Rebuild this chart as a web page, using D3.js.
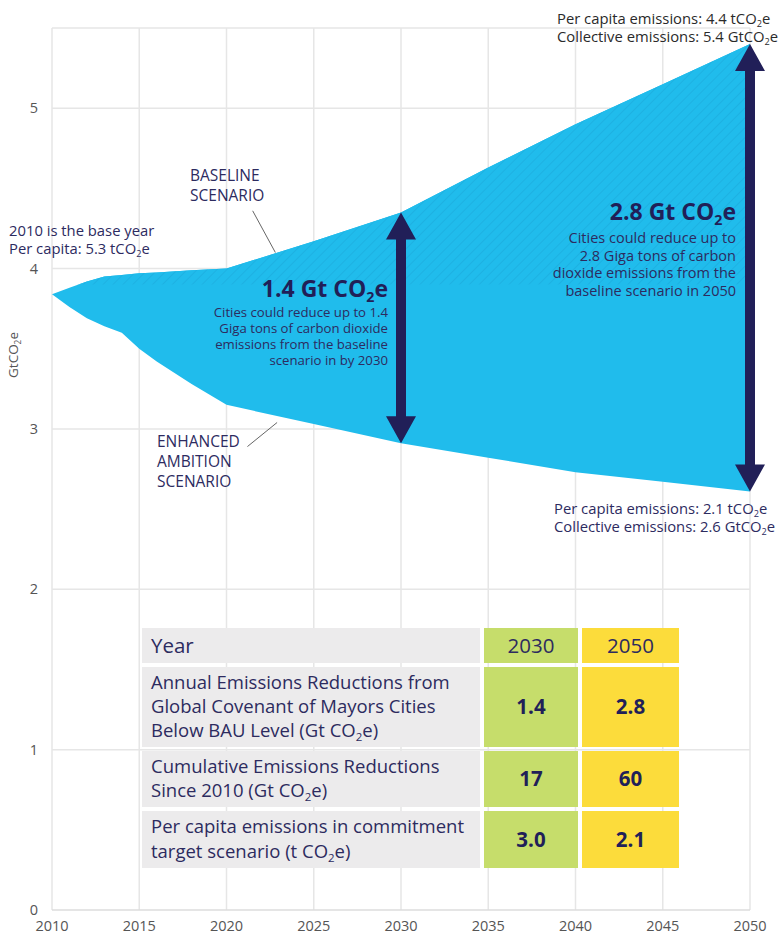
<!DOCTYPE html>
<head>
    <script src="https://d3js.org/d3.v7.min.js"></script>
    <style>
        body { margin: 0; background: #fff; }
        text { font-family: "Open Sans", sans-serif; }
    </style>
</head>
<body>
    <script id="chart">
        // data
        const years = [2010, 2011, 2012, 2013, 2014, 2015, 2016, 2018, 2020, 2025, 2030, 2035, 2040, 2045, 2050];
        const baseline = [3.84, 3.88, 3.92, 3.95, 3.96, 3.97, 3.975, 3.99, 4.00, 4.17, 4.35, 4.63, 4.90, 5.15, 5.40];
        const enhanced = [3.84, 3.76, 3.69, 3.64, 3.60, 3.50, 3.42, 3.28, 3.15, 3.03, 2.91, 2.82, 2.73, 2.67, 2.61];
        const xTicks = [2010, 2015, 2020, 2025, 2030, 2035, 2040, 2045, 2050];
        const yTicks = [0, 1, 2, 3, 4, 5];
        const arrowYears = [2030, 2050];
        const hatchFloor = 3.9;

        // table
        const tableHead = ["Year", "2030", "2050"];
        const tableLabels = [
            ["Annual Emissions Reductions from", "Global Covenant of Mayors Cities", "Below BAU Level (Gt CO_2e)"],
            ["Cumulative Emissions Reductions", "Since 2010 (Gt CO_2e)"],
            ["Per capita emissions in commitment", "target scenario (t CO_2e)"]
        ];
        const table2030 = ["1.4", "17", "3.0"];
        const table2050 = ["2.8", "60", "2.1"];

        const data = years.map((d, i) => ({ year: d, base: baseline[i], enh: enhanced[i] }));

        const svg = d3.select("body")
            .append("svg")
            .attr("width", 778)
            .attr("height", 934);
        const margin = { top: 28, right: 28, bottom: 24, left: 52 };
        const width = 778 - margin.left - margin.right;
        const height = 934 - margin.top - margin.bottom;
        const chart = svg.append("g").attr("transform", `translate(${margin.left},${margin.top})`);

        const x = d3.scaleLinear().domain([2010, 2050]).range([0, width]);
        const y = d3.scaleLinear().domain([0, 5.5]).range([height, 0]);

        const navy = "#211f58";
        const ink = "#2d2b5f";

        // little helper for CO_2 style subscripts
        function rich(sel, str, size) {
            const parts = str.split("_");
            sel.append("tspan").text(parts[0]);
            for (let i = 1; i < parts.length; i++) {
                sel.append("tspan").attr("font-size", size * 0.62).attr("dy", size * 0.22).text(parts[i][0]);
                sel.append("tspan").attr("dy", -size * 0.22).text(parts[i].slice(1));
            }
        }

        // grid
        chart.append("g")
            .selectAll("line")
            .data(xTicks)
            .join("line")
            .attr("x1", d => x(d)).attr("x2", d => x(d))
            .attr("y1", 0).attr("y2", height)
            .attr("stroke", "#e6e6e6").attr("stroke-width", 1.5);
        chart.append("g")
            .selectAll("line")
            .data(yTicks.concat([5.5]))
            .join("line")
            .attr("x1", 0).attr("x2", width)
            .attr("y1", d => y(d)).attr("y2", d => y(d))
            .attr("stroke", d => d === 0 ? "#dcdcdc" : "#e6e6e6").attr("stroke-width", 1.5);

        // axis labels
        chart.append("g")
            .selectAll("text")
            .data(yTicks)
            .join("text")
            .attr("x", -14).attr("y", d => y(d) + 5)
            .attr("text-anchor", "end")
            .attr("font-size", 14.5).attr("fill", "#555")
            .text(d => d);
        chart.append("g")
            .selectAll("text")
            .data(xTicks)
            .join("text")
            .attr("x", d => x(d)).attr("y", height + 21)
            .attr("text-anchor", "middle")
            .attr("font-size", 14.5).attr("fill", "#555")
            .text(d => d);
        const yl = svg.append("text")
            .attr("transform", "translate(18,355) rotate(-90)")
            .attr("text-anchor", "middle")
            .attr("font-size", 13.5).attr("fill", "#555");
        rich(yl, "GtCO_2e", 13.5);

        // hatch pattern
        const defs = svg.append("defs");
        const pat = defs.append("pattern")
            .attr("id", "hatch")
            .attr("patternUnits", "userSpaceOnUse")
            .attr("width", 7).attr("height", 7)
            .attr("patternTransform", "rotate(45)");
        pat.append("rect").attr("width", 7).attr("height", 7).attr("fill", "#20bcec");
        pat.append("line").attr("x1", 0).attr("x2", 0).attr("y1", 0).attr("y2", 7)
            .attr("stroke", "#1ca6d9").attr("stroke-width", 1);
        defs.append("clipPath").attr("id", "above")
            .append("rect").attr("x", 0).attr("y", 0).attr("width", width).attr("height", y(hatchFloor));

        // area
        const area = d3.area()
            .x(d => x(d.year))
            .y0(d => y(d.enh))
            .y1(d => y(d.base));
        chart.append("path").datum(data).attr("d", area).attr("fill", "#20bcec");
        chart.append("path").datum(data).attr("d", area).attr("fill", "url(#hatch)")
            .attr("clip-path", "url(#above)");

        // arrows
        const hw = 15, hh = 27, sw = 5;
        chart.append("g")
            .selectAll("path")
            .data(data.filter(d => arrowYears.includes(d.year)))
            .join("path")
            .attr("fill", navy)
            .attr("d", d => {
                const cx = x(d.year), t = y(d.base), b = y(d.enh);
                return `M${cx},${t} L${cx + hw},${t + hh} L${cx + sw},${t + hh} L${cx + sw},${b - hh} L${cx + hw},${b - hh}
                        L${cx},${b} L${cx - hw},${b - hh} L${cx - sw},${b - hh} L${cx - sw},${t + hh} L${cx - hw},${t + hh} Z`;
            });

        // leader lines
        const leaders = [[2021.5, 4.36, 2022.8, 4.1], [2021.2, 2.89, 2022.9, 3.04]];
        chart.append("g")
            .selectAll("line")
            .data(leaders)
            .join("line")
            .attr("x1", d => x(d[0])).attr("y1", d => y(d[1]))
            .attr("x2", d => x(d[2])).attr("y2", d => y(d[3]))
            .attr("stroke", "#666").attr("stroke-width", 1);

        // annotations
        function block(lines, px, py, size, lh, anchor, fill, weight) {
            lines.forEach((s, i) => {
                const t = svg.append("text")
                    .attr("x", px).attr("y", py + i * lh)
                    .attr("text-anchor", anchor)
                    .attr("font-size", size).attr("fill", fill)
                    .attr("font-weight", weight || 400);
                rich(t, s, size);
            });
        }
        block(["BASELINE", "SCENARIO"], 190, 181, 15.5, 20, "start", ink);
        block(["ENHANCED", "AMBITION", "SCENARIO"], 157, 447, 15.5, 20, "start", ink);
        block(["2010 is the base year", "Per capita: 5.3 tCO_2e"], 9, 236, 14.8, 17.5, "start", ink);
        block(["1.4 Gt CO_2e"], 388, 297, 23, 0, "end", navy, 700);
        block(["Cities could reduce up to 1.4", "Giga tons of carbon dioxide", "emissions from the baseline", "scenario in by 2030"],
            388, 317, 13.2, 16, "end", ink);
        block(["2.8 Gt CO_2e"], 736, 220, 23, 0, "end", navy, 700);
        block(["Cities could reduce up to", "2.8 Giga tons of carbon", "dioxide emissions from the", "baseline scenario in 2050"],
            736, 243, 14.5, 17.5, "end", ink);
        block(["Per capita emissions: 4.4 tCO_2e", "Collective emissions: 5.4 GtCO_2e"], 557, 24, 14.8, 18, "start", "#2a2a2a");
        block(["Per capita emissions: 2.1 tCO_2e", "Collective emissions: 2.6 GtCO_2e"], 554, 514, 14.8, 18, "start", ink);

        // table
        const tx = 142, ty = 628;
        const colW = [338, 94, 97], gap = 4;
        const rowH = [35, 80, 56, 57];
        const colX = [tx, tx + colW[0] + gap, tx + colW[0] + colW[1] + 2 * gap];
        const colFill = ["#ecebec", "#c6dd6b", "#fcdc3b"];
        const rowY = rowH.map((h, i) => ty + d3.sum(rowH.slice(0, i)) + i * gap);
        const tg = svg.append("g");
        rowH.forEach((h, r) => {
            colW.forEach((w, c) => {
                tg.append("rect")
                    .attr("x", colX[c]).attr("y", rowY[r])
                    .attr("width", w).attr("height", h)
                    .attr("fill", colFill[c]);
            });
        });
        tg.append("text").attr("x", colX[0] + 9).attr("y", rowY[0] + 25)
            .attr("font-size", 20.5).attr("fill", ink).text(tableHead[0]);
        [1, 2].forEach(c => {
            tg.append("text").attr("x", colX[c] + colW[c] / 2).attr("y", rowY[0] + 25)
                .attr("text-anchor", "middle").attr("font-size", 20.5).attr("fill", ink).text(tableHead[c]);
        });
        tableLabels.forEach((lines, i) => {
            const r = i + 1;
            const top = rowY[r] + rowH[r] / 2 - (lines.length - 1) * 12.2 + 6;
            lines.forEach((s, j) => {
                const t = tg.append("text").attr("x", colX[0] + 9).attr("y", top + j * 24.4)
                    .attr("font-size", 18.5).attr("fill", ink);
                rich(t, s, 18.5);
            });
            [table2030[i], table2050[i]].forEach((v, k) => {
                tg.append("text").attr("x", colX[k + 1] + colW[k + 1] / 2).attr("y", rowY[r] + rowH[r] / 2 + 7)
                    .attr("text-anchor", "middle").attr("font-size", 20.5).attr("font-weight", 700)
                    .attr("fill", navy).text(v);
            });
        });
    </script>
</body>
